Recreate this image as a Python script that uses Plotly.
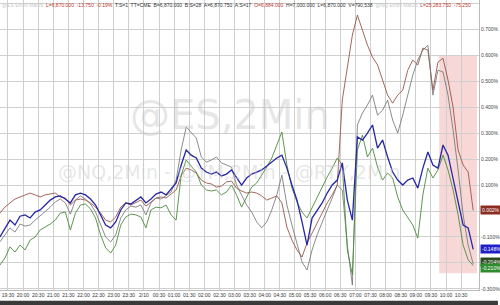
import plotly.graph_objects as go
import pandas as pd

# 10-minute samples from 19:14 (2/9) to 10:54 (2/10), % change
times = pd.date_range("2026-02-09 19:14", periods=95, freq="10min")

brown = [-0.008, 0.015, 0.031, 0.046, 0.054, 0.062, 0.069, 0.062, 0.054, 0.062,
         0.065, 0.069, 0.054, 0.050, 0.023, 0.042, 0.046, 0.042, 0.031, 0.015,
         -0.008, -0.035, -0.042, -0.023, 0.015, 0.031, 0.023, 0.031, 0.042, 0.019,
         0.035, 0.050, 0.054, 0.050, 0.065, 0.081, 0.135, 0.165, 0.158, 0.146,
         0.119, 0.108, 0.104, 0.092, 0.096, 0.112, 0.115, 0.088, 0.077, 0.069,
         0.073, 0.069, 0.058, 0.042, 0.050, 0.058, 0.031, -0.062, -0.112, -0.150,
         -0.177, -0.123, -0.085, -0.046, -0.004, 0.031, 0.062, 0.100, 0.427, 0.562,
         0.677, 0.754, 0.696, 0.638, 0.592, 0.562, 0.504, 0.446, 0.415, 0.446,
         0.465, 0.542, 0.581, 0.562, 0.627, 0.619, 0.465, 0.573, 0.588, 0.504,
         0.400, 0.235, 0.177, 0.150, 0.002]

blue = [-0.100, -0.065, -0.035, -0.054, -0.020, -0.015, -0.027, -0.004, 0.004, 0.023,
        0.042, 0.054, 0.058, 0.046, 0.031, 0.062, 0.069, 0.062, 0.046, 0.023,
        -0.015, -0.054, -0.065, -0.042, 0.004, 0.031, 0.027, 0.042, 0.054, 0.031,
        0.046, 0.065, 0.073, 0.062, 0.085, 0.108, 0.177, 0.235, 0.215, 0.204,
        0.165, 0.150, 0.142, 0.150, 0.135, 0.142, 0.158, 0.127, 0.100, 0.127,
        0.142, 0.150, 0.158, 0.173, 0.188, 0.204, 0.215, 0.165, 0.100, 0.042,
        -0.042, -0.131, -0.027, 0.004, 0.031, 0.069, 0.100, 0.119, 0.185, 0.042,
        -0.035, 0.285, 0.273, 0.300, 0.331, 0.242, 0.273, 0.208, 0.150, 0.119,
        0.100, 0.119, 0.127, 0.088, 0.165, 0.227, 0.177, 0.165, 0.254, 0.215,
        0.127, 0.042, -0.054, -0.065, -0.148]

gray = [-0.119, -0.092, -0.065, -0.081, -0.050, -0.058, -0.054, -0.035, -0.019, -0.004,
        0.015, 0.035, 0.046, 0.031, -0.012, 0.042, 0.058, 0.046, 0.027, -0.004,
        -0.054, -0.100, -0.119, -0.092, -0.027, 0.004, 0.019, 0.015, 0.023, -0.015,
        0.031, 0.050, 0.046, 0.058, 0.073, 0.119, 0.235, 0.323, 0.304, 0.281,
        0.208, 0.188, 0.196, 0.208, 0.185, 0.177, 0.169, 0.100, 0.062, 0.023,
        -0.004, -0.042, -0.065, -0.042, 0.004, 0.062, 0.138, 0.023, -0.054, -0.123,
        -0.196, -0.227, -0.150, -0.092, -0.042, 0.004, 0.050, 0.100, 0.081, -0.131,
        -0.285, 0.331, 0.377, 0.408, 0.446, 0.369, 0.388, 0.427, 0.350, 0.300,
        0.369, 0.446, 0.523, 0.581, 0.619, 0.638, 0.446, 0.542, 0.535, 0.446,
        0.312, 0.158, -0.015, -0.131, -0.204]

green = [-0.208, -0.181, -0.138, -0.158, -0.131, -0.150, -0.112, -0.100, -0.073, -0.062,
         -0.050, -0.035, -0.008, -0.004, -0.073, -0.008, 0.023, 0.027, 0.008, -0.027,
         -0.092, -0.142, -0.162, -0.131, -0.054, -0.023, -0.012, -0.015, -0.023, -0.065,
         0.004, 0.015, 0.012, 0.023, -0.015, -0.035, 0.138, 0.196, 0.173, 0.150,
         0.100, 0.081, 0.077, 0.081, 0.062, 0.073, 0.100, 0.062, 0.015, 0.054,
         0.092, 0.108, 0.138, 0.169, 0.204, 0.254, 0.304, 0.177, 0.088, 0.035,
         -0.004, -0.027, 0.012, 0.054, 0.096, 0.131, 0.165, 0.204, 0.177, -0.150,
         -0.246, 0.235, 0.292, 0.208, 0.242, 0.169, 0.119, 0.146, 0.127, 0.054,
         0.004, -0.023, -0.054, -0.104, 0.062, 0.165, 0.127, 0.158, 0.215, 0.158,
         0.081, -0.015, -0.131, -0.188, -0.210]

tick_times = pd.date_range("2026-02-09 19:30", "2026-02-10 10:30", freq="30min")
tick_labels = ["19:30", "20:00", "20:30", "21:00", "21:30", "22:00", "22:30", "23:00",
               "23:30", "2/10", "00:30", "01:00", "01:30", "02:00", "02:30", "03:00",
               "03:30", "04:00", "04:30", "05:00", "05:30", "06:00", "06:30", "07:00",
               "07:30", "08:00", "08:30", "09:00", "09:30", "10:00", "10:30"]

y_ticks = [-0.3, -0.2, -0.1, 0.0, 0.1, 0.2, 0.3, 0.4, 0.5, 0.6, 0.7, 0.8]
y_labels = ["-0.300%", "-0.200%", "-0.100%", "0.000%", "0.100%", "0.200%", "0.300%",
            "0.400%", "0.500%", "0.600%", "0.700%", "0.800%"]

last_labels = ["0.002%", "-0.148%", "-0.204%", "-0.210%"]

fig = go.Figure()
series = [(brown, "#9a5548", 0.9), (gray, "#6e6e6e", 0.8), (green, "#4d8a3c", 0.9), (blue, "#2626a6", 1.3)]
for vals, col, w in series:
    fig.add_trace(go.Scatter(x=times, y=vals, mode="lines", line=dict(color=col, width=w),
                             hoverinfo="skip", showlegend=False))

# highlighted box
fig.add_shape(type="rect", xref="x", yref="y", x0="2026-02-10 09:46:30", x1="2026-02-10 11:01:30",
              y0=-0.24, y1=0.6, fillcolor="rgba(236,140,140,0.35)", line=dict(width=0), layer="below")

# watermarks
fig.add_annotation(xref="x", yref="y", x="2026-02-10 02:50", y=0.37, text="@ES,2Min", showarrow=False,
                   font=dict(family="Arial Black, DejaVu Sans", size=40, color="rgba(200,200,200,0.45)"))
fig.add_annotation(xref="x", yref="y", x="2026-02-10 02:50", y=0.15,
                   text="@NQ,2Min - @YM,2Min - @RTY,2Min", showarrow=False,
                   font=dict(family="DejaVu Sans", size=19, color="rgba(200,200,200,0.45)"))

# last value labels
label_cols = ["#8b2c22", "#2020c8", "#2d4a1e", "#2e8b2e"]
label_vals = [brown[-1], blue[-1], gray[-1] + 0.008, green[-1] - 0.008]
for txt, col, v in zip(last_labels, label_cols, label_vals):
    fig.add_annotation(xref="paper", yref="y", x=1.0, y=v, text=txt, showarrow=False, xanchor="left",
                       xshift=1, font=dict(size=5, color="white", family="Arial"), bgcolor=col,
                       borderpad=1)

header = ("<span style='color:#c8c8c8'>@ES Emini Mar26</span>  "
          "<span style='color:#c0392b'>L=6,870.000  -13.750  -0.19%</span>  "
          "<span style='color:#333'>T:S=1  TT=CME  B=6,870.000  B:S=28  A=6,870.750  A:S=17</span>  "
          "<span style='color:#c0392b'>O=6,884.000</span>  "
          "<span style='color:#333'>H=7,000.000  L=6,870.000  V=790,538</span>  "
          "<span style='color:#c8c8c8'>@NQ Emini Mar26</span>  "
          "<span style='color:#c0392b'>L=25,283.750  -75.250</span>")
fig.add_annotation(xref="paper", yref="paper", x=0.0, y=1.0, xanchor="left", yanchor="top", text=header,
                   showarrow=False, font=dict(size=5, family="Arial", color="#333"))

# bottom scrollbar
fig.add_shape(type="rect", xref="paper", yref="paper", x0=0, x1=500 / 481, y0=-0.052, y1=-0.037,
              fillcolor="#3a3a3a", line=dict(width=0))

fig.update_layout(
    width=500, height=305, margin=dict(l=0, r=19, t=0, b=15),
    paper_bgcolor="white", plot_bgcolor="white",
    xaxis=dict(type="date", range=["2026-02-09 19:14:12", "2026-02-10 11:05:30"],
               tickvals=tick_times, ticktext=tick_labels, showgrid=True, gridcolor="#cfcfcf",
               gridwidth=1, tickfont=dict(size=5, color="#333", family="Arial"), ticks="",
               showline=True, linecolor="#bbbbbb", zeroline=False, fixedrange=True),
    yaxis=dict(side="right", range=[-0.304, 0.812], tickvals=y_ticks, ticktext=y_labels,
               showgrid=True, gridcolor="#cfcfcf", gridwidth=1, zeroline=False,
               tickfont=dict(size=5, color="#444", family="Arial"), ticks="",
               showline=True, linecolor="#bbbbbb", fixedrange=True),
)

fig.write_html("out.html")
